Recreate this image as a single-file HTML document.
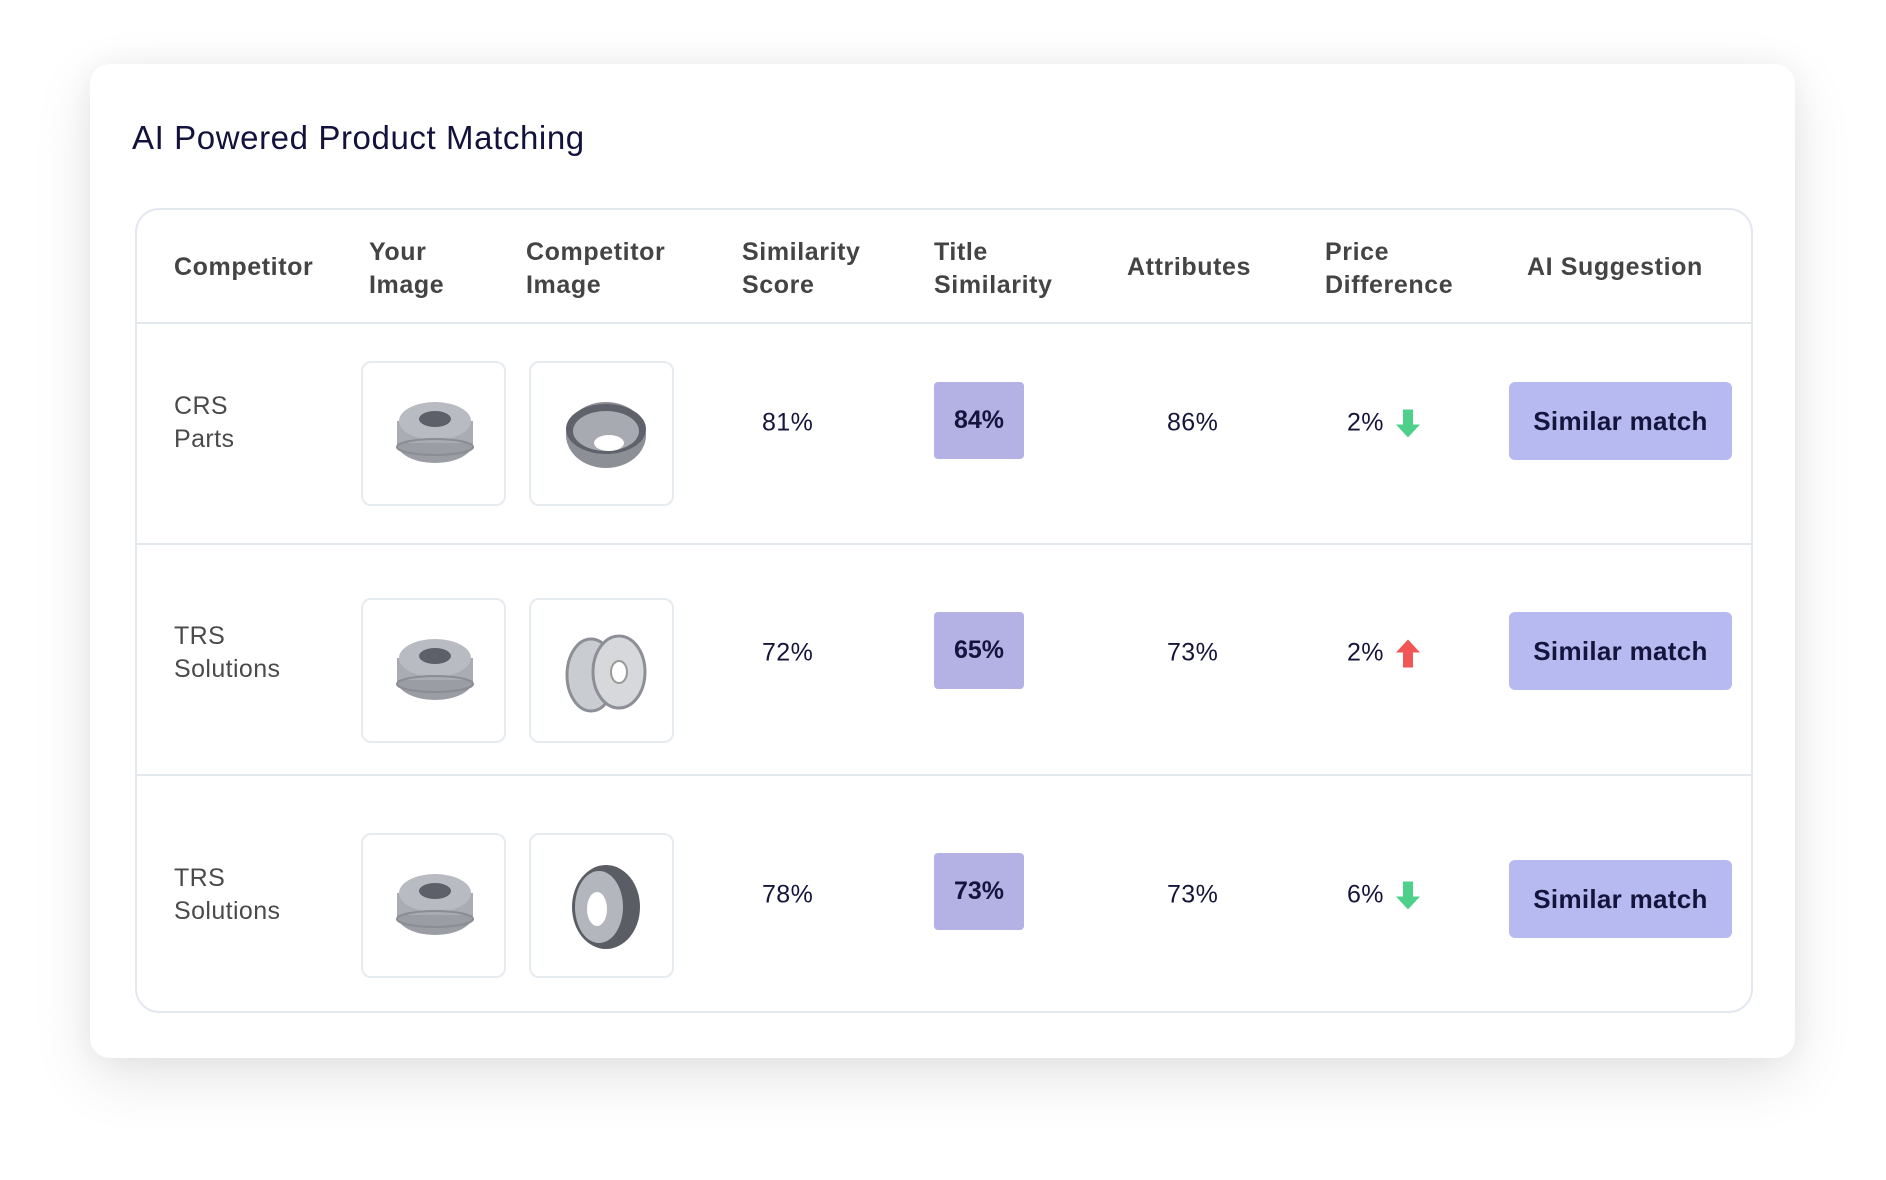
<!DOCTYPE html>
<html><head><meta charset="utf-8">
<style>
*{margin:0;padding:0;box-sizing:border-box}
body{width:1886px;height:1180px;background:#fff;font-family:"Liberation Sans",sans-serif;position:relative;overflow:hidden}
.card{position:absolute;left:90px;top:64px;width:1705px;height:994px;background:#fff;border-radius:20px;box-shadow:0 20px 60px rgba(0,0,0,0.10),0 0 30px rgba(0,0,0,0.05)}
.title{position:absolute;left:132px;top:119px;font-size:33px;color:#12123d;letter-spacing:0.6px}
.tbl{position:absolute;left:135px;top:208px;width:1618px;height:805px;border:2px solid #e3e8ef;border-radius:24px}
.hsep{position:absolute;left:135px;width:1618px;height:2px;background:#e3e8ef}
.th{position:absolute;font-size:25px;font-weight:bold;color:#444;line-height:33px;letter-spacing:0.6px}
.abs{position:absolute}
.name{font-size:25px;color:#4a4a4a;line-height:33px;letter-spacing:0.4px}
.val{font-size:25px;color:#14143c;transform:translateY(-50%);letter-spacing:0.4px}
.imgbox{position:absolute;width:145px;height:145px;border:2px solid #e6ebf0;border-radius:10px;background:#fff}
.badge{position:absolute;width:90px;height:77px;background:#b4b2e4;border-radius:4px;font-size:25px;font-weight:bold;color:#14143c;display:flex;align-items:center;justify-content:center}
.btn{position:absolute;width:223px;height:78px;background:#b7baf0;border-radius:6px;font-size:26px;font-weight:bold;color:#14143c;display:flex;align-items:center;justify-content:center;letter-spacing:0.3px}
</style></head><body>
<div class="card"></div>
<div class="title">AI Powered Product Matching</div>
<div class="tbl"></div>
<div class="hsep" style="top:322px"></div>
<div class="hsep" style="top:543px"></div>
<div class="hsep" style="top:774px"></div>

<div class="th" style="left:174px;top:251px">Competitor</div>
<div class="th" style="left:369px;top:236px">Your<br>Image</div>
<div class="th" style="left:526px;top:236px">Competitor<br>Image</div>
<div class="th" style="left:742px;top:236px">Similarity<br>Score</div>
<div class="th" style="left:934px;top:236px">Title<br>Similarity</div>
<div class="th" style="left:1127px;top:251px">Attributes</div>
<div class="th" style="left:1325px;top:236px">Price<br>Difference</div>
<div class="th" style="left:1527px;top:251px">AI Suggestion</div>

<div id="rows"></div>

<script>
const competitors = ["CRS|Parts", "TRS|Solutions", "TRS|Solutions"];
const similarityScores = [81, 72, 78];
const titleSimilarity = [84, 65, 73];
const attributes = [86, 73, 73];
const priceDiff = [2, 2, 6];
const priceDir = ["down", "up", "down"];
const suggestions = ["Similar match", "Similar match", "Similar match"];
const compImgType = ["bowl", "wheel", "side"];

const rowCenters = [423, 653, 895];
const imgTops = [361, 598, 833];
const badgeTops = [382, 612, 853];
const btnTops = [382, 612, 860];
const root = document.getElementById('rows');

function drumSVG(type){
  if(type==="yours") return '<svg width="145" height="145" viewBox="0 0 145 145"><ellipse cx="72" cy="80" rx="38" ry="20" fill="#9a9da4"/><rect x="34" y="58" width="76" height="22" fill="#a9acb3"/><ellipse cx="72" cy="58" rx="36" ry="19" fill="#b8bbc1"/><ellipse cx="72" cy="56" rx="16" ry="8" fill="#5d6068"/><ellipse cx="72" cy="84" rx="38" ry="8" fill="none" stroke="#8a8d93" stroke-width="2"/></svg>';
  if(type==="bowl") return '<svg width="145" height="145" viewBox="0 0 145 145"><ellipse cx="75" cy="72" rx="40" ry="33" fill="#8c8f96"/><ellipse cx="75" cy="66" rx="40" ry="25" fill="#5f626a"/><ellipse cx="75" cy="68" rx="33" ry="20" fill="#a7aab1"/><ellipse cx="78" cy="80" rx="15" ry="8" fill="#fff"/></svg>';
  if(type==="wheel") return '<svg width="145" height="145" viewBox="0 0 145 145"><ellipse cx="60" cy="75" rx="24" ry="36" fill="#c9ccd1" stroke="#8c8f95" stroke-width="3"/><ellipse cx="88" cy="72" rx="26" ry="36" fill="#d6d8dc" stroke="#8c8f95" stroke-width="3"/><ellipse cx="88" cy="72" rx="8" ry="11" fill="#fff" stroke="#999" stroke-width="2"/></svg>';
  return '<svg width="145" height="145" viewBox="0 0 145 145"><ellipse cx="75" cy="72" rx="34" ry="42" fill="#5a5d64"/><ellipse cx="68" cy="72" rx="24" ry="36" fill="#b3b6bc"/><ellipse cx="66" cy="74" rx="10" ry="17" fill="#fff"/></svg>';
}
function arrowSVG(dir){
  const c = dir==="up" ? "#f25555" : "#4fd08a";
  const p = dir==="up" ? "M12 0 L24 13 L17 13 L17 28 L7 28 L7 13 L0 13 Z" : "M7 0 L17 0 L17 15 L24 15 L12 28 L0 15 L7 15 Z";
  return '<svg width="24" height="28" viewBox="0 0 24 28"><path d="'+p+'" fill="'+c+'"/></svg>';
}

for(let i=0;i<competitors.length;i++){
  const cy = rowCenters[i];
  const nm = document.createElement('div');
  nm.className='abs name';
  nm.style.left='174px'; nm.style.top=(cy-33)+'px';
  nm.innerHTML = competitors[i].split('|').join('<br>');
  
  
  root.appendChild(nm);

  const y1 = document.createElement('div');
  y1.className='imgbox'; y1.style.left='361px'; y1.style.top=imgTops[i]+'px';
  y1.innerHTML = drumSVG("yours");
  
  
  root.appendChild(y1);

  const c1 = document.createElement('div');
  c1.className='imgbox'; c1.style.left='529px'; c1.style.top=imgTops[i]+'px';
  c1.innerHTML = drumSVG(compImgType[i]);
  
  
  root.appendChild(c1);

  const s = document.createElement('div');
  s.className='abs val'; s.style.left='762px'; s.style.top=cy+'px';
  s.textContent = similarityScores[i]+'%';
  
  
  root.appendChild(s);

  const b = document.createElement('div');
  b.className='badge'; b.style.left='934px'; b.style.top=badgeTops[i]+'px';
  b.textContent = titleSimilarity[i]+'%';
  
  
  root.appendChild(b);

  const a = document.createElement('div');
  a.className='abs val'; a.style.left='1167px'; a.style.top=cy+'px';
  a.textContent = attributes[i]+'%';
  
  
  root.appendChild(a);

  const p = document.createElement('div');
  p.className='abs val'; p.style.left='1347px'; p.style.top=cy+'px';
  p.style.display='flex'; p.style.alignItems='center'; p.style.gap='12px';
  p.innerHTML = '<span>'+priceDiff[i]+'%</span>'+arrowSVG(priceDir[i]);
  
  
  root.appendChild(p);

  const bt = document.createElement('div');
  bt.className='btn'; bt.style.left='1509px'; bt.style.top=btnTops[i]+'px';
  bt.textContent = suggestions[i];
  
  
  root.appendChild(bt);
}
</script>
</body></html>
